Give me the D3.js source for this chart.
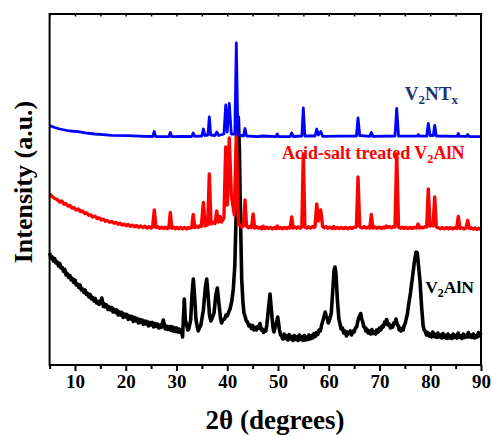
<!DOCTYPE html>
<html>
<head>
<meta charset="utf-8">
<script src="https://cdn.jsdelivr.net/npm/d3@7"></script>
<style>
  body { margin: 0; background: #fff; }
  text { font-family: "Liberation Serif", "Times New Roman", serif; font-weight: bold; }
</style>
</head>
<body>
<svg></svg>
<script>
const svgWidth = 493;
const svgHeight = 436;

// x ticks
const majorTicks = [10, 20, 30, 40, 50, 60, 70, 80, 90];
const minorTicks = [5, 15, 25, 35, 45, 55, 65, 75, 85];

// V2NTx (blue) - [2theta, intensity]
const v2ntx = [
  [5,239.5],[6,237.5],[7,236],[8,235],[9,234],[10.6,233.3],[12,232.2],[13.9,231],[15.5,230.3],
  [17.2,229.7],[20.4,229.3],[23.8,228.7],[25.3,228.5],[25.63,233.5],[25.9,228.5],[28.5,228.4],
  [28.78,232.5],[29.05,228.4],[31,228.6],[33.0,228.5],[33.3,232],[33.6,228.6],[35.0,229],[35.3,236],
  [35.6,229.5],[36.2,230],[36.47,248],[36.75,230],[37.6,229.5],[37.93,233],[38.3,229.5],[39.35,231],
  [39.7,260],[40.0,233],[40.4,261.5],[40.8,231],[41.5,231],[41.79,322],[42.1,230],[43.2,229],
  [43.5,236.5],[43.8,229],[46,228.4],[47,229],[49.6,228.4],[49.87,231],[50.1,228.4],[52.4,228.5],
  [52.7,232],[53,228.5],[54.7,229],[54.99,257],[55.3,229],[57.3,229],[57.63,236],[57.95,230],
  [58.42,233.5],[58.8,228.7],[62,228.8],[65.45,229],[65.77,247],[66.1,229.5],[68.1,228.7],
  [68.39,232.5],[68.7,228.6],[73.05,229],[73.39,256.5],[73.75,229],[77.4,228.8],[77.65,230.5],
  [77.9,228.8],[79.3,229],[79.62,241.5],[79.95,229.5],[80.6,229.5],[80.88,239.5],[81.2,229],
  [85.3,228.6],[85.53,231.5],[85.8,228.6],[87.1,228.6],[87.38,230.5],[87.7,228.5],[90,228.3]
];

// Acid-salt treated V2AlN (red)
const acidSalt = [
  [5,171],[5.5,168.5],[6,166.5],[6.5,165.5],[7,163],[7.4,164],[7.8,161],[8.2,161.5],[8.6,159],[9,159.5],
  [9.4,157],[9.8,157.5],[10.2,155],[10.65,156],[11.1,153.5],[11.5,154],[11.9,151.5],[12.3,152],[12.7,149.8],
  [13.1,150.2],[13.5,148],[13.95,148.8],[14.4,146.5],[14.8,147],[15.2,145],[15.6,145.8],[16,143.8],[16.4,144.5],
  [16.8,142.8],[17.24,143.6],[17.7,141.8],[18.1,142.5],[18.5,140.8],[18.9,141.8],[19.3,140],[19.7,140.8],
  [20.1,139.3],[20.5,140.6],[20.9,138.8],[21.3,139.8],[21.7,138.2],[22.1,139.6],[22.5,137.8],[22.9,139],
  [23.4,137.5],[23.8,138.8],[24.2,137],[24.6,138.2],[25.0,137],[25.3,138],[25.63,155],[25.95,137.6],
  [26.3,138.4],[26.7,136.6],[27.1,137.8],[27.5,136.4],[27.8,137.8],[28.2,136.4],[28.5,137.3],
  [28.78,152.5],[29.1,136.8],[29.5,137.8],[29.8,136.3],[30.1,137.6],[30.4,136.2],[30.8,137.5],[31.2,136.3],
  [31.6,137.6],[32,136.2],[32.3,137.6],[32.6,136.8],[33.0,137.4],[33.3,150.5],[33.6,137.5],[34.0,138.8],
  [34.3,137.6],[34.6,139.2],[34.9,138.6],[35.3,162.5],[35.65,139],[35.9,140.5],[36.15,140],[36.47,191],
  [36.8,141],[37.2,142.5],[37.6,141.5],[37.93,154],[38.25,143],[38.6,148.5],[38.9,143],[39.35,147],[39.7,218],
  [40.0,160],[40.4,227],[40.8,170],[41.4,150],[41.79,233],[42.2,142],[42.5,139.5],[42.8,138],[43.2,139],
  [43.5,165],[43.8,139],[44.2,137.2],[44.5,138.6],[44.8,137.5],[45.1,151],[45.4,137],[45.8,138.3],[46.2,136.8],
  [46.5,137.8],[46.8,136.3],[47.1,138.8],[47.4,136.5],[47.8,137.8],[48.1,136.4],[48.5,137.6],[48.9,136.2],
  [49.3,137.5],[49.6,136.5],[49.87,139],[50.2,136.5],[50.6,137.6],[50.9,136.2],[51.3,137.5],[51.7,136.5],
  [52.0,137.6],[52.4,137],[52.7,148],[53.0,137],[53.4,138],[53.7,136.8],[54.0,138],[54.4,137],[54.7,138],
  [54.99,211],[55.3,138],[55.7,137],[56.0,138.2],[56.4,137],[56.8,138.4],[57.1,137.6],[57.3,138.5],[57.63,161],
  [57.95,144],[58.42,155],[58.8,138.5],[59.1,137.2],[59.5,138.4],[59.8,136.8],[60.2,137.8],[60.7,136.5],
  [61.0,138.5],[61.3,136.5],[61.7,137.6],[62.1,136.4],[62.5,137.6],[62.9,136.4],[63.3,137.6],[63.8,136.3],
  [64.2,137.6],[64.6,136.6],[65.0,137.8],[65.45,138],[65.77,188],[66.1,139],[66.3,137.6],[66.6,137],[67.0,138.2],
  [67.4,137],[67.8,138],[68.1,137],[68.39,150.5],[68.7,137],[69.1,138],[69.5,136.8],[70,137.8],[70.4,136.6],
  [70.7,137.8],[71.0,137],[71.3,139],[71.6,137.5],[72.0,138.4],[72.4,137.2],[72.8,138.6],[73.05,138],[73.39,211],
  [73.75,138],[74.1,136.8],[74.5,137.8],[74.8,136.6],[75.2,137.6],[75.6,136.5],[76.0,137.6],[76.4,136.6],
  [76.8,137.6],[77.3,137],[77.6,141],[77.9,137],[78.2,138],[78.6,137.2],[79.0,138.4],[79.3,138],
  [79.62,176],[79.95,139],[80.3,140],[80.55,139],[80.88,168],[81.2,138],[81.6,137.2],[82.0,136.3],[82.4,137.4],
  [82.8,136.2],[83.2,137.4],[83.6,136.3],[84.0,137.4],[84.4,136.2],[84.8,137.2],[85.2,136.5],
  [85.53,148.5],[85.85,136.5],[86.2,137.4],[86.6,136.2],[87.05,136.8],[87.38,144.5],[87.7,136.5],[88.1,137.2],
  [88.5,135.8],[88.8,137],[89.2,135.6],[89.6,136.6],[90,135.7]
];

// V2AlN (black)
const v2aln = [
  [5,112],[5.25,107],[5.5,108],[5.75,104],[6,106.5],[6.25,102],[6.5,103],[6.75,99],[7,101.5],[7.25,97],
  [7.5,97.5],[7.75,93.5],[8,95.5],[8.25,90],[8.5,91.5],[8.75,87.5],[9,89.5],[9.25,85],[9.5,86.5],[9.75,82.5],
  [10,85],[10.25,80],[10.5,81],[10.75,77.5],[11,80],[11.25,75],[11.5,76],[11.75,72.5],[12,75],[12.25,70.5],
  [12.5,71.5],[12.75,68],[13,70.5],[13.25,66],[13.5,67.5],[13.75,64],[14,66.5],[14.25,62],[14.5,63.5],
  [14.75,60.5],[15,63],[15.3,67],[15.6,58.5],[15.8,61],[16,58],[16.25,60],[16.5,55.5],[16.75,58],[17,55],
  [17.25,57.5],[17.5,53],[17.75,55.5],[18,52.5],[18.25,55],[18.5,50],[18.75,53],[19,50],[19.25,52.5],
  [19.5,47.5],[19.75,51],[20,48],[20.25,50.5],[20.5,45.5],[20.75,49],[21,46],[21.25,48.5],[21.5,43.5],
  [21.75,47.5],[22,44],[22.25,46.5],[22.5,42],[22.75,45.5],[23,42.5],[23.25,45],[23.5,40.5],[23.75,44],
  [24,41],[24.25,43.5],[24.5,39],[24.75,42.5],[25,40],[25.25,42.5],[25.5,38],[25.75,41.5],[26,38.5],
  [26.25,41],[26.5,37],[26.75,40],[27,37.5],[27.4,45],[27.8,36],[28,39],[28.25,35.5],[28.5,38.5],[28.75,35],
  [29,38.5],[29.25,34],[29.5,37.5],[29.75,33.5],[30,37],[30.25,33],[30.5,36],[30.75,32.5],[31,35],[31.2,28],
  [31.35,45],[31.54,66],[31.75,45],[32.0,40],[32.25,35],[32.47,37],[32.8,45],[33.05,70],[33.32,86],
  [33.55,70],[33.85,45],[34.1,38],[34.3,34],[34.44,36],[34.8,40],[35.3,55],[35.7,78],[35.95,86],[36.2,72],
  [36.5,50],[36.75,44],[36.94,46],[37.4,52],[37.75,70],[38.05,77],[38.35,62],[38.7,46],[38.9,42],[39.1,45],
  [39.5,46],[39.75,50],[40.0,49],[40.3,53],[40.55,56],[40.9,64],[41.2,76],[41.5,100],[41.75,150],
  [41.95,215],[42.18,248],[42.4,215],[42.6,150],[42.85,86],[43.1,62],[43.3,52],[43.5,49],[43.75,44],
  [44.0,43],[44.25,39],[44.5,40],[44.75,36.5],[45.0,39.5],[45.25,35],[45.5,37.5],[45.75,35],[46.0,38.5],
  [46.25,37],[46.46,41.5],[46.7,35],[46.9,36],[47.15,32.5],[47.4,35],[47.6,34],[47.8,40],[48.1,55],
  [48.43,71],[48.7,55],[49.0,38],[49.2,33],[49.4,37],[49.6,40],[49.95,48],[50.3,35],[50.5,30],[50.7,29],
  [50.95,26],[51.2,31],[51.45,26.5],[51.7,29],[51.95,25],[52.2,30.5],[52.45,26],[52.7,28.5],[52.95,24.5],
  [53.2,29.5],[53.45,25.5],[53.7,28],[53.95,24.5],[54.2,30],[54.45,25.5],[54.7,28.5],[54.95,24.5],[55.2,29.5],
  [55.45,25],[55.66,28],[55.9,25.5],[56.1,30],[56.35,26],[56.6,29.5],[56.85,27],[57.1,31.5],[57.35,28.5],
  [57.6,32.5],[57.85,30.5],[58.1,35],[58.35,34],[58.6,40],[59.0,47],[59.3,53],[59.5,49],[59.7,47],[59.9,42],
  [60.1,44],[60.5,52],[60.8,75],[61.05,95],[61.24,98],[61.45,90],[61.7,65],[62.0,46],[62.2,41.5],[62.45,36],
  [62.7,37],[62.95,32],[63.2,34],[63.5,29],[63.75,33],[64.0,31.5],[64.25,34],[64.5,30],[64.75,34],[65.0,33],
  [65.25,37],[65.5,38],[65.7,43],[65.9,47],[66.3,51.5],[66.5,46],[66.7,43],[66.9,38],[67.1,38],[67.3,34],
  [67.5,36],[67.75,32],[68.0,34],[68.25,31],[68.5,35.5],[68.75,31.5],[69.0,33],[69.25,31],[69.45,35],
  [69.75,33],[70.0,37],[70.25,35],[70.5,39],[70.75,38],[71.0,43],[71.2,41],[71.4,45.5],[71.65,40],[71.9,41],
  [72.15,37],[72.4,39],[72.6,38],[72.8,42],[73.05,42],[73.26,46],[73.5,40],[73.7,39.5],[73.9,35],[74.1,37],
  [74.25,34],[74.4,35.5],[74.65,35],[74.9,40],[75.1,42],[75.3,47],[75.5,51],[75.68,58],[76.1,72],[76.5,88],
  [76.9,104],[77.2,113],[77.45,112],[77.75,96],[77.98,84],[78.3,58],[78.6,39],[78.8,35],[79.0,34],[79.25,30],
  [79.5,32.5],[79.75,29],[79.95,31],[80.25,28],[80.5,33],[80.75,28.5],[81,30.5],[81.25,27.5],[81.5,32],
  [81.75,28],[82,30],[82.25,27],[82.5,31.5],[82.75,27.5],[83,29.5],[83.25,26.5],[83.5,31],[83.75,27],
  [84,29],[84.25,26.5],[84.5,31],[84.75,27.5],[85,29.5],[85.25,27],[85.5,32],[85.75,27.5],[86,29],[86.25,26.5],
  [86.5,31],[86.75,27.5],[87,29.5],[87.25,28],[87.5,32.5],[87.75,28],[88,30],[88.25,27.5],[88.5,31],
  [88.75,27],[89,29],[89.25,28],[89.5,32.5],[89.75,29],[90,32]
];

const plot = { left: 49.6, right: 481, top: 14, bottom: 365 };

const svg = d3.select('svg')
  .attr("width", svgWidth)
  .attr("height", svgHeight);

const x = d3.scaleLinear().domain([5, 90]).range([plot.left, plot.right]);
const y = d3.scaleLinear().domain([0, 351]).range([plot.bottom, plot.top]);

const line = d3.line()
  .x(function(d) { return x(d[0]); })
  .y(function(d) { return y(d[1]); });

// curves, black first so the others sit on top like the original
svg.append("path").datum(v2aln)
  .attr("d", line).attr("fill", "none")
  .attr("stroke", "#000").attr("stroke-width", 3.6).attr("stroke-linejoin", "round");
svg.append("path").datum(acidSalt)
  .attr("d", line).attr("fill", "none")
  .attr("stroke", "#ff0000").attr("stroke-width", 3.4).attr("stroke-linejoin", "round");
svg.append("path").datum(v2ntx)
  .attr("d", line).attr("fill", "none")
  .attr("stroke", "#0000ff").attr("stroke-width", 2.8).attr("stroke-linejoin", "round");

// bottom axis
const xAxis = svg.append("g")
  .attr("transform", "translate(0," + plot.bottom + ")")
  .call(d3.axisBottom(x).tickValues(majorTicks).tickSize(6).tickPadding(4).tickFormat(d3.format("d")));
xAxis.select(".domain").remove();
xAxis.selectAll("line").attr("stroke-width", 2);
xAxis.selectAll("text").style("font-size", "19px").attr("fill", "#000");

const xMinor = svg.append("g")
  .attr("transform", "translate(0," + plot.bottom + ")")
  .call(d3.axisBottom(x).tickValues(minorTicks).tickSize(4).tickFormat(""));
xMinor.select(".domain").remove();
xMinor.selectAll("line").attr("stroke-width", 2);

// top ticks pointing inward
const xTop = svg.append("g")
  .attr("transform", "translate(0," + plot.top + ")")
  .call(d3.axisBottom(x).tickValues(majorTicks.concat(minorTicks)).tickSize(2.5).tickFormat(""));
xTop.select(".domain").remove();
xTop.selectAll("line").attr("stroke-width", 1.5);

// frame
svg.append("rect")
  .attr("x", plot.left).attr("y", plot.top)
  .attr("width", plot.right - plot.left).attr("height", plot.bottom - plot.top)
  .attr("fill", "none").attr("stroke", "#000").attr("stroke-width", 2);

// axis titles
svg.append("text")
  .attr("x", 275).attr("y", 429)
  .attr("text-anchor", "middle").style("font-size", "27px")
  .text("2θ (degrees)");

svg.append("text")
  .attr("transform", "translate(32," + 182 + ") rotate(-90)")
  .attr("text-anchor", "middle").style("font-size", "26px")
  .text("Intensity (a.u.)");

// curve labels
function label(xv, yv, color, size, parts) {
  const t = svg.append("text").attr("x", x(xv)).attr("y", y(yv))
    .attr("fill", color).style("font-size", size + "px");
  parts.forEach(function(p) {
    const s = t.append("tspan").text(p[0]);
    if (p[1]) s.attr("dy", 4).style("font-size", (size * 0.68) + "px");
    else s.attr("dy", p[2] || 0);
  });
}
label(75.0, 265, "#1f3273", 19, [["V"], ["2", true], ["NT", false, -4], ["x", true]]);
label(50.8, 206.5, "#ff0000", 18, [["Acid-salt treated V"], ["2", true], ["AlN", false, -4]]);
label(79.0, 72, "#000", 17.5, [["V"], ["2", true], ["AlN", false, -4]]);
</script>
</body>
</html>
